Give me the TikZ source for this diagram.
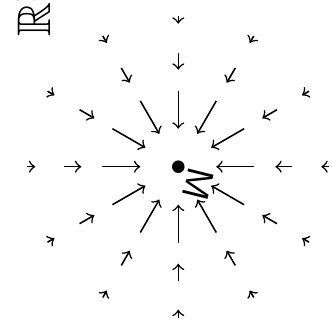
\documentclass[tikz,border=0pt]{standalone}
\usepackage{amssymb}
\begin{document}
\begin{tikzpicture}[x=0.3185pt,y=0.3185pt,
  vec/.style={->,line width=0.5pt},
  pt/.style={circle,fill,inner sep=0pt,minimum size=4pt},
  lbl/.style={font=\fontsize{15}{18}\selectfont},
  mlbl/.style={font=\fontsize{12}{14}\selectfont\sffamily}]
\useasboundingbox (0,0) rectangle (332,332);
\node[pt] (c) at (178.3,165.3) {};
\foreach \a in {0,30,...,330}{
  \foreach \t/\h in {76/38,114/97,151/143}{
    \draw[vec] ([shift={(\a:\t)}]c.center) -- ([shift={(\a:\h)}]c.center);
  }}
\node[mlbl,rotate=-104,inner sep=0pt] (m) at (198,148) {M};
\node[lbl,rotate=90,anchor=base west,inner sep=0pt] (r) at (51,295) {$\mathbb{R}^2$};
\end{tikzpicture}
\end{document}
